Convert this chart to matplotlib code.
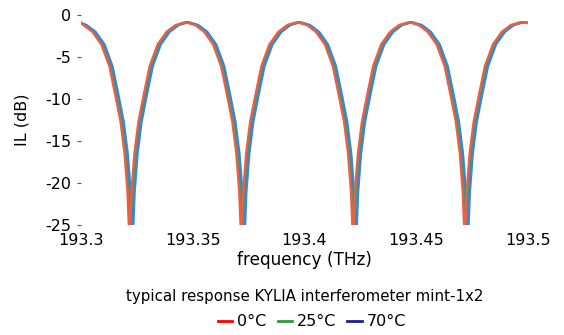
import matplotlib.pyplot as plt
from matplotlib.lines import Line2D

# frequency points (THz), one list per temperature
freq_0C = [193.3000,
           193.3011, 193.3051, 193.3091, 193.3127, 193.3154, 193.3177, 193.3195, 193.3208, 193.3217,
           193.3226, 193.3239, 193.3257, 193.3280, 193.3307, 193.3343, 193.3383, 193.3423, 193.3467,
           193.3511, 193.3551, 193.3591, 193.3627, 193.3654, 193.3677, 193.3695, 193.3708, 193.3717,
           193.3726, 193.3739, 193.3757, 193.3780, 193.3807, 193.3843, 193.3883, 193.3923, 193.3967,
           193.4011, 193.4051, 193.4091, 193.4127, 193.4154, 193.4177, 193.4195, 193.4208, 193.4217,
           193.4226, 193.4239, 193.4257, 193.4280, 193.4307, 193.4343, 193.4383, 193.4423, 193.4467,
           193.4511, 193.4551, 193.4591, 193.4627, 193.4654, 193.4677, 193.4695, 193.4708, 193.4717,
           193.4726, 193.4739, 193.4757, 193.4780, 193.4807, 193.4843, 193.4883, 193.4923, 193.4967,
           193.5000]
freq_25C = [193.3000,
            193.3018, 193.3058, 193.3098, 193.3134, 193.3161, 193.3184, 193.3202, 193.3215, 193.3224,
            193.3233, 193.3246, 193.3264, 193.3287, 193.3314, 193.3350, 193.3390, 193.3430, 193.3474,
            193.3518, 193.3558, 193.3598, 193.3634, 193.3661, 193.3684, 193.3702, 193.3715, 193.3724,
            193.3733, 193.3746, 193.3764, 193.3787, 193.3814, 193.3850, 193.3890, 193.3930, 193.3974,
            193.4018, 193.4058, 193.4098, 193.4134, 193.4161, 193.4184, 193.4202, 193.4215, 193.4224,
            193.4233, 193.4246, 193.4264, 193.4287, 193.4314, 193.4350, 193.4390, 193.4430, 193.4474,
            193.4518, 193.4558, 193.4598, 193.4634, 193.4661, 193.4684, 193.4702, 193.4715, 193.4724,
            193.4733, 193.4746, 193.4764, 193.4787, 193.4814, 193.4850, 193.4890, 193.4930, 193.4974,
            193.5000]
freq_70C = [193.3000,
            193.3025, 193.3065, 193.3105, 193.3141, 193.3168, 193.3191, 193.3209, 193.3222, 193.3231,
            193.3240, 193.3253, 193.3271, 193.3294, 193.3321, 193.3357, 193.3397, 193.3437, 193.3481,
            193.3525, 193.3565, 193.3605, 193.3641, 193.3668, 193.3691, 193.3709, 193.3722, 193.3731,
            193.3740, 193.3753, 193.3771, 193.3794, 193.3821, 193.3857, 193.3897, 193.3937, 193.3981,
            193.4025, 193.4065, 193.4105, 193.4141, 193.4168, 193.4191, 193.4209, 193.4222, 193.4231,
            193.4240, 193.4253, 193.4271, 193.4294, 193.4321, 193.4357, 193.4397, 193.4437, 193.4481,
            193.4525, 193.4565, 193.4605, 193.4641, 193.4668, 193.4691, 193.4709, 193.4722, 193.4731,
            193.4740, 193.4753, 193.4771, 193.4794, 193.4821, 193.4857, 193.4897, 193.4937, 193.4981,
            193.5000]
# insertion loss (dB), same shape for all three curves
il_db = [-0.95,
         -1.2, -2.0, -3.5, -6.1, -9.6, -12.7, -16.5, -21, -27,
         -21, -16.5, -12.7, -9.6, -6.1, -3.5, -2.0, -1.2, -0.85,
         -1.2, -2.0, -3.5, -6.1, -9.6, -12.7, -16.5, -21, -27,
         -21, -16.5, -12.7, -9.6, -6.1, -3.5, -2.0, -1.2, -0.85,
         -1.2, -2.0, -3.5, -6.1, -9.6, -12.7, -16.5, -21, -27,
         -21, -16.5, -12.7, -9.6, -6.1, -3.5, -2.0, -1.2, -0.85,
         -1.2, -2.0, -3.5, -6.1, -9.6, -12.7, -16.5, -21, -27,
         -21, -16.5, -12.7, -9.6, -6.1, -3.5, -2.0, -1.2, -0.85,
         -0.95]

xticks = [193.3, 193.35, 193.4, 193.45, 193.5]
xlabels = ['193.3', '193.35', '193.4', '193.45', '193.5']
yticks = [0, -5, -10, -15, -20, -25]
labels = ['0°C', '25°C', '70°C']

fs = 11.5
fig = plt.figure(figsize=(5.64, 3.35), dpi=100)
ax = fig.add_axes([81/564, 1-225/335, (528-81)/564, (225-15)/335])

ax.plot(freq_25C, il_db, color='#3a9a7a', lw=1.7, solid_joinstyle='round')
ax.plot(freq_70C, il_db, color='#3b88c6', lw=1.7, solid_joinstyle='round')
ax.plot(freq_0C, il_db, color='#ea6040', lw=1.7, solid_joinstyle='round')

ax.set_xlim(193.3, 193.5)
ax.set_ylim(-25, 0)
for s in ax.spines.values():
    s.set_visible(False)
ax.set_xticks(xticks)
ax.set_xticklabels(xlabels, fontsize=fs)
ax.set_yticks(yticks)
ax.set_yticklabels([str(v) for v in yticks], fontsize=fs)
ax.tick_params(axis='x', length=0, pad=6)
ax.tick_params(axis='y', length=3, width=0.8, color='#555555', pad=4)

ax.set_ylabel('IL (dB)', fontsize=fs, labelpad=11)
ax.set_xlabel('frequency (THz)', fontsize=12.2, labelpad=2)
fig.text(0.541, 1-297/335, 'typical response KYLIA interferometer mint-1x2',
         ha='center', va='center', fontsize=10.8)

handles = [Line2D([], [], color='#ff0000', lw=2),
           Line2D([], [], color='#2a9a3a', lw=2),
           Line2D([], [], color='#1f1f8c', lw=2)]
fig.legend(handles, labels, loc='center', bbox_to_anchor=(0.553, 1-322/335), ncol=3,
           frameon=False, fontsize=fs, handlelength=0.9, handletextpad=0.3,
           columnspacing=0.7, borderpad=0)

fig.savefig('out.png', dpi=100)
